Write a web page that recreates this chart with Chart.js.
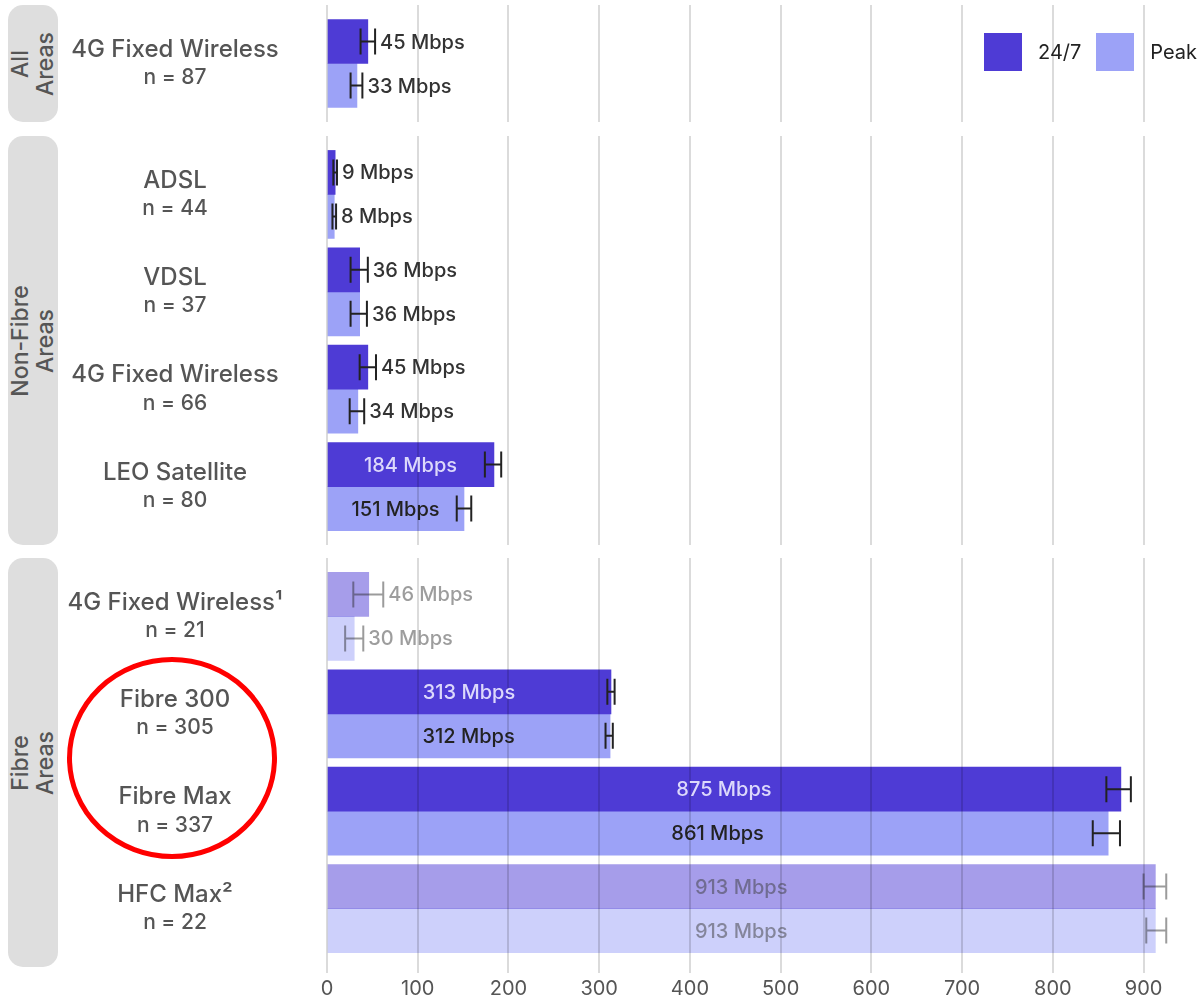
<!DOCTYPE html>
<html>
<head>
<meta charset="utf-8">
<script src="https://cdn.jsdelivr.net/npm/chart.js@4.4.1/dist/chart.umd.min.js"></script>
<style>
  body { margin: 0; background: #fff; font-family: Inter, "Noto Sans", sans-serif; }
  #wrap { position: relative; width: 1198px; height: 998px; overflow: hidden; }
  #wrap canvas { position: absolute; left: 0; }
  .strip {
    position: absolute; left: 8px; width: 50px; background: #dedede; border-radius: 15px;
    display: flex; align-items: center; justify-content: center;
  }
  .strip span {
    transform: rotate(-90deg); white-space: nowrap; text-align: center;
    font-size: 23px; font-weight: 500; line-height: 25px; color: #555;
  }
  .legend { position: absolute; top: 33px; display: flex; align-items: center; font-size: 20px; color: #222; }
  .legend i { display: inline-block; width: 38px; height: 38px; margin-right: 16px; }
  #circle { position: absolute; left: 0; top: 0; pointer-events: none; }
</style>
</head>
<body>
<div id="wrap"></div>
<script>
// panel (facet) strips
const panelTitles = [["All", "Areas"], ["Non-Fibre", "Areas"], ["Fibre", "Areas"]];

// categories per panel
const categories = [
  ["4G Fixed Wireless"],
  ["ADSL", "VDSL", "4G Fixed Wireless", "LEO Satellite"],
  ["4G Fixed Wireless¹", "Fibre 300", "Fibre Max", "HFC Max²"]
];
const sampleSizes = [[87], [44, 37, 66, 80], [21, 305, 337, 22]];
const lowConfidence = [[false], [false, false, false, false], [true, false, false, true]];

// median speeds (Mbps)
const speed247 = [[45], [9, 36, 45, 184], [46, 313, 875, 913]];
const speedPeak = [[33], [8, 36, 34, 151], [30, 312, 861, 913]];

// confidence intervals
const err247Low = [[37], [7, 26, 36, 174], [29, 309, 859, 900]];
const err247High = [[53], [11, 45, 54, 192], [62, 317, 886, 925]];
const errPeakLow = [[26], [6, 26, 25, 143], [20, 307, 844, 903]];
const errPeakHigh = [[39], [10, 44, 41, 159], [40, 315, 874, 925]];

const seriesNames = ["24/7", "Peak"];
const xTickStep = 100;
const xMax = 960;

const COLOR_247 = "rgb(78,59,213)";
const COLOR_PEAK = "rgb(156,162,247)";
const FADED_247 = "rgba(78,59,213,0.5)";
const FADED_PEAK = "rgba(156,162,247,0.5)";
const GRID = "rgba(0,0,0,0.14)";

const wrap = document.getElementById("wrap");
const panelTops = [5, 136, 558];
const unit = 97.3;
const leftPad = 327;
const axisHeight = 31;

const sideLabels = {
  id: "sideLabels",
  afterDraw(chart, args, opts) {
    const ctx = chart.ctx;
    const y = chart.scales.y;
    opts.names.forEach((name, i) => {
      const py = y.getPixelForValue(i);
      ctx.save();
      ctx.fillStyle = "#555";
      ctx.textAlign = "center";
      ctx.textBaseline = "middle";
      ctx.font = "500 24px Inter";
      ctx.fillText(name, 175, py - 14);
      ctx.font = "500 21px Inter";
      ctx.fillText("n = " + opts.counts[i], 175, py + 14);
      ctx.restore();
    });
  }
};

const barExtras = {
  id: "barExtras",
  afterDraw(chart, args, opts) {
    const ctx = chart.ctx;
    const x = chart.scales.x;
    const x0 = x.getPixelForValue(0);
    chart.data.datasets.forEach((ds, d) => {
      const meta = chart.getDatasetMeta(d);
      meta.data.forEach((bar, i) => {
        const faded = opts.faded[i];
        const lo = x.getPixelForValue(ds.errLow[i]);
        const hi = x.getPixelForValue(ds.errHigh[i]);
        const cy = bar.y;
        ctx.save();
        ctx.strokeStyle = faded ? "rgba(34,34,34,0.45)" : "#222";
        ctx.lineWidth = 2;
        ctx.beginPath();
        ctx.moveTo(lo, cy - 13); ctx.lineTo(lo, cy + 13);
        ctx.moveTo(hi, cy - 13); ctx.lineTo(hi, cy + 13);
        ctx.moveTo(lo, cy); ctx.lineTo(hi, cy);
        ctx.stroke();

        const v = ds.data[i].x;
        const text = v + " Mbps";
        ctx.font = "500 20px Inter";
        ctx.textBaseline = "middle";
        if (v >= 100) {
          ctx.textAlign = "center";
          ctx.fillStyle = faded ? "rgba(60,60,60,0.5)" : d === 0 ? "#dcd8fb" : "#222";
          ctx.fillText(text, (x0 + bar.x) / 2, cy + 1);
        } else {
          ctx.textAlign = "left";
          ctx.fillStyle = faded ? "rgba(60,60,60,0.5)" : "#333";
          ctx.fillText(text, hi + 5, cy + 1);
        }
        ctx.restore();
      });
    });
  }
};

categories.forEach((cats, p) => {
  const n = cats.length;
  const isLast = p === categories.length - 1;
  const plotH = Math.round((n + 0.2) * unit);
  const top = panelTops[p];

  const strip = document.createElement("div");
  strip.className = "strip";
  strip.style.top = top + "px";
  strip.style.height = plotH + "px";
  strip.innerHTML = "<span>" + panelTitles[p].join("<br>") + "</span>";
  wrap.appendChild(strip);

  const canvas = document.createElement("canvas");
  canvas.width = 1198;
  canvas.height = plotH + (isLast ? axisHeight : 0);
  canvas.style.top = top + "px";
  wrap.appendChild(canvas);

  const faded = lowConfidence[p];
  new Chart(canvas, {
    type: "bar",
    data: {
      datasets: [
        {
          label: seriesNames[0],
          data: speed247[p].map((v, i) => ({ x: v, y: i })),
          errLow: err247Low[p],
          errHigh: err247High[p],
          backgroundColor: (c) => (faded[c.dataIndex] ? FADED_247 : COLOR_247),
          barThickness: 44,
        },
        {
          label: seriesNames[1],
          data: speedPeak[p].map((v, i) => ({ x: v, y: i })),
          errLow: errPeakLow[p],
          errHigh: errPeakHigh[p],
          backgroundColor: (c) => (faded[c.dataIndex] ? FADED_PEAK : COLOR_PEAK),
          barThickness: 44,
        },
      ],
    },
    plugins: [sideLabels, barExtras],
    options: {
      indexAxis: "y",
      responsive: false,
      animation: false,
      layout: { padding: { left: leftPad, right: 0, top: 0, bottom: 0 } },
      plugins: {
        legend: { display: false },
        tooltip: { enabled: false },
        sideLabels: { names: cats, counts: sampleSizes[p] },
        barExtras: { faded: faded },
      },
      scales: {
        x: {
          type: "linear",
          min: 0,
          max: xMax,
          afterFit: (s) => { s.height = isLast ? axisHeight : 0; },
          border: { display: false },
          grid: { color: GRID, lineWidth: 2, z: 1, drawTicks: isLast, tickLength: 6 },
          ticks: {
            display: isLast,
            stepSize: xTickStep,
            includeBounds: false,
            padding: 4,
            color: "#555",
            font: { family: "Inter", size: 20 },
          },
        },
        y: {
          type: "linear",
          reverse: true,
          offset: false,
          min: -0.6,
          max: n - 0.4,
          display: false,
        },
      },
    },
  });
});

// legend
const leg = document.createElement("div");
leg.className = "legend";
leg.style.left = "984px";
leg.innerHTML =
  '<i style="background:' + COLOR_247 + '"></i><span style="margin-right:15px">' + seriesNames[0] + "</span>" +
  '<i style="background:' + COLOR_PEAK + '"></i><span>' + seriesNames[1] + "</span>";
wrap.appendChild(leg);

// red annotation circle
wrap.insertAdjacentHTML(
  "beforeend",
  '<svg id="circle" width="1198" height="998"><ellipse cx="172" cy="758" rx="102.5" ry="98.5" fill="none" stroke="#f00" stroke-width="5"/></svg>'
);
</script>
</body>
</html>
